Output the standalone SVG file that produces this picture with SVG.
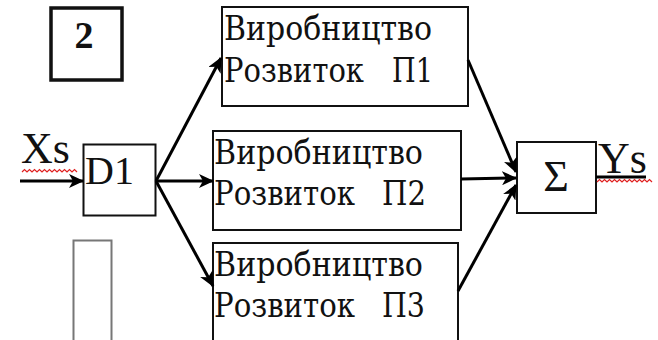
<svg xmlns="http://www.w3.org/2000/svg" width="658" height="340" viewBox="0 0 658 340">
<style>
text{fill:#111;}
.box{fill:#fff;stroke:#111;stroke-width:2;}
.conn line{stroke:#000;stroke-width:3;}
.wavy{fill:none;stroke:#e02020;stroke-width:1.2;}
</style>
<defs>
<marker id="ah" markerUnits="userSpaceOnUse" markerWidth="16" markerHeight="14" refX="14" refY="7" orient="auto">
<path d="M0,0 L15,7 L0,14 L4,7 Z" fill="#000"/>
</marker>
</defs>
<rect width="658" height="340" fill="#fff"/>

<g id="label2">
<rect x="51" y="8" width="71" height="72" fill="#fff" stroke="#111" stroke-width="3.5"/>
<text font-family="Liberation Serif" x="84" y="48" font-size="38" font-weight="bold" text-anchor="middle">2</text>
</g>

<g id="bar">
<rect x="73.5" y="240.5" width="38" height="110" fill="#fff" stroke="#777" stroke-width="2"/>
</g>

<g id="xs">
<text font-family="Liberation Serif" x="21" y="163" font-size="44">Xs</text>
<path class="wavy" d="M22,172 l2.5,-2.5 2.5,2.5 2.5,-2.5 2.5,2.5 2.5,-2.5 2.5,2.5 2.5,-2.5 2.5,2.5 2.5,-2.5 2.5,2.5 2.5,-2.5 2.5,2.5 2.5,-2.5 2.5,2.5 2.5,-2.5 2.5,2.5 2.5,-2.5 2.5,2.5 2.5,-2.5 2.5,2.5 2.5,-2.5 2.5,2.5"/>
</g>

<g id="D1">
<rect class="box" x="83.5" y="144.5" width="72" height="71"/>
<text font-family="Liberation Serif" x="85" y="184" font-size="40">D1</text>
</g>

<g id="P1" font-family="DejaVu Serif" font-size="33">
<rect class="box" x="222" y="7" width="246" height="99"/>
<text font-family="DejaVu Serif" x="224" y="40" textLength="208" lengthAdjust="spacingAndGlyphs">Виробництво</text>
<text font-family="DejaVu Serif" x="224" y="82" textLength="140" lengthAdjust="spacingAndGlyphs">Розвиток</text>
<text font-family="DejaVu Serif" x="392" y="82" textLength="41" lengthAdjust="spacingAndGlyphs">П1</text>
</g>

<g id="P2" font-family="DejaVu Serif" font-size="33">
<rect class="box" x="213" y="131" width="248" height="99"/>
<text font-family="DejaVu Serif" x="214" y="164" textLength="209" lengthAdjust="spacingAndGlyphs">Виробництво</text>
<text font-family="DejaVu Serif" x="214" y="205" textLength="141" lengthAdjust="spacingAndGlyphs">Розвиток</text>
<text font-family="DejaVu Serif" x="382" y="205" textLength="44" lengthAdjust="spacingAndGlyphs">П2</text>
</g>

<g id="P3" font-family="DejaVu Serif" font-size="33">
<rect class="box" x="213" y="243" width="245" height="110"/>
<text font-family="DejaVu Serif" x="214" y="276" textLength="209" lengthAdjust="spacingAndGlyphs">Виробництво</text>
<text font-family="DejaVu Serif" x="214" y="317" textLength="141" lengthAdjust="spacingAndGlyphs">Розвиток</text>
<text font-family="DejaVu Serif" x="382" y="317" textLength="43" lengthAdjust="spacingAndGlyphs">П3</text>
</g>

<g id="sigma">
<rect class="box" x="517" y="142" width="79" height="71"/>
<text font-family="Liberation Serif" x="556" y="191" font-size="44" text-anchor="middle">Σ</text>
</g>

<g id="ys">
<text font-family="Liberation Serif" x="598" y="173" font-size="44">Ys</text>
<path class="wavy" d="M597,182 l2.5,-2.5 2.5,2.5 2.5,-2.5 2.5,2.5 2.5,-2.5 2.5,2.5 2.5,-2.5 2.5,2.5 2.5,-2.5 2.5,2.5 2.5,-2.5 2.5,2.5 2.5,-2.5 2.5,2.5 2.5,-2.5 2.5,2.5 2.5,-2.5 2.5,2.5 2.5,-2.5 2.5,2.5 2.5,-2.5 2.5,2.5"/>
</g>

<g class="conn" id="connectors">
<line x1="20" y1="181" x2="83" y2="181" marker-end="url(#ah)"/>
<line x1="156" y1="181" x2="221" y2="58" marker-end="url(#ah)"/>
<line x1="156" y1="181" x2="213" y2="181" marker-end="url(#ah)"/>
<line x1="156" y1="181" x2="213" y2="286" marker-end="url(#ah)"/>
<line x1="468" y1="60" x2="516" y2="172" marker-end="url(#ah)"/>
<line x1="461" y1="179" x2="516" y2="178" marker-end="url(#ah)"/>
<line x1="458" y1="291" x2="516" y2="185" marker-end="url(#ah)"/>
<line x1="596" y1="177" x2="646" y2="177" stroke-width="2.5"/>
</g>
</svg>
